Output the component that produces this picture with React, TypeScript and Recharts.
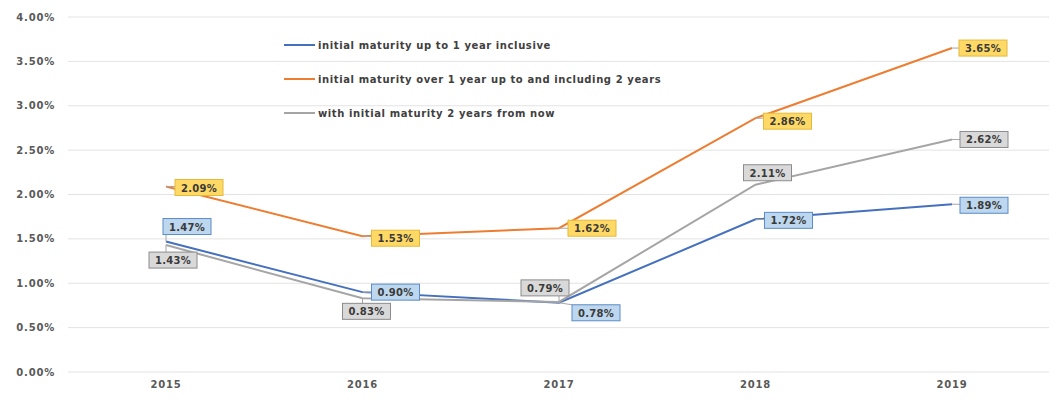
import { CartesianGrid, LabelList, Legend, Line, LineChart, XAxis, YAxis } from "recharts";

const YEARS = ["2015", "2016", "2017", "2018", "2019"];
const UP_TO_1Y = [1.47, 0.9, 0.78, 1.72, 1.89];
const OVER_1_TO_2Y = [2.09, 1.53, 1.62, 2.86, 3.65];
const OVER_2Y = [1.43, 0.83, 0.79, 2.11, 2.62];
const Y_TICKS = [0, 0.5, 1, 1.5, 2, 2.5, 3, 3.5, 4];

const FONT = "'DejaVu Sans', sans-serif";

type Serie = {
  key: string;
  name: string;
  color: string;
  labelFill: string;
  labelStroke: string;
  // desplazamiento de la etiqueta respecto al punto
  offsets: [number, number][];
};

const SERIES: Serie[] = [
  {
    key: "upTo1",
    name: "initial maturity up to 1 year inclusive",
    color: "#4470BE",
    labelFill: "#BDD7EE",
    labelStroke: "#5B8BC9",
    offsets: [[21, -15], [33, 0], [37, 10], [33, 1], [32, 1]],
  },
  {
    key: "over1to2",
    name: "initial maturity over 1 year up to and including 2 years",
    color: "#ED7D31",
    labelFill: "#FFD966",
    labelStroke: "#E5B93A",
    offsets: [[33, 1], [33, 2], [33, 0], [32, 3], [31, 0]],
  },
  {
    key: "over2",
    name: "with initial maturity 2 years from now",
    color: "#A5A5A5",
    labelFill: "#D9D9D9",
    labelStroke: "#8C8C8C",
    offsets: [[7, 15], [4, 13], [-14, -14], [12, -12], [32, 0]],
  },
];

const datos = YEARS.map((year, i) => ({
  year,
  upTo1: UP_TO_1Y[i],
  over1to2: OVER_1_TO_2Y[i],
  over2: OVER_2Y[i],
}));

function makeLabel(s: Serie) {
  return (props: any) => {
    const { x, y, value, index } = props;
    const [dx, dy] = s.offsets[index] ?? [0, -14];
    const w = 48;
    const h = 16;
    const cx = x + dx;
    const cy = y + dy;
    const left = cx - w / 2;
    const top = cy - h / 2;
    const px = Math.min(Math.max(x, left), left + w);
    const py = Math.min(Math.max(y, top), top + h);
    const leader = Math.hypot(px - x, py - y) > 4;
    return (
      <g>
        {leader && <line x1={x} y1={y} x2={px} y2={py} stroke="#A6A6A6" strokeWidth={1} />}
        <rect x={left} y={top} width={w} height={h} fill={s.labelFill} stroke={s.labelStroke} strokeWidth={1} />
        <text
          x={cx}
          y={cy + 0.5}
          textAnchor="middle"
          dominantBaseline="central"
          fontSize={10}
          fontWeight="bold"
          fontFamily={FONT}
          fill="#3A3A3A"
          letterSpacing={0.3}
        >
          {Number(value).toFixed(2)}%
        </text>
      </g>
    );
  };
}

function Leyenda() {
  return (
    <div style={{ fontFamily: FONT }}>
      {SERIES.map((s) => (
        <div key={s.key} style={{ display: "flex", alignItems: "center", height: 34 }}>
          <span style={{ width: 31, height: 2, backgroundColor: s.color, marginRight: 3 }} />
          <span
            style={{
              fontSize: 10,
              fontWeight: "bold",
              color: "#404040",
              whiteSpace: "nowrap",
              letterSpacing: 0.6,
            }}
          >
            {s.name}
          </span>
        </div>
      ))}
    </div>
  );
}

export default function App() {
  const tick = { fontSize: 10, fontWeight: "bold", fill: "#595959", fontFamily: FONT, letterSpacing: 0.8 };
  return (
    <div style={{ position: "relative", width: 1057, height: 418, margin: -8, background: "#fff" }}>
      <div style={{ position: "absolute", left: 6, top: 0, bottom: 0, borderLeft: "1px solid #D9D9D9" }} />
      <LineChart width={1057} height={418} data={datos} margin={{ top: 17, right: 7, bottom: 0, left: 0 }}>
        <CartesianGrid vertical={false} stroke="#E3E3E3" />
        <XAxis
          dataKey="year"
          height={46}
          axisLine={false}
          tickLine={false}
          tickSize={0}
          tickMargin={9}
          padding={{ left: 98, right: 98 }}
          tick={tick}
        />
        <YAxis
          width={68}
          domain={[0, 4]}
          ticks={Y_TICKS}
          axisLine={false}
          tickLine={false}
          tickSize={0}
          tickMargin={13}
          tickFormatter={(v: number) => `${v.toFixed(2)}%`}
          tick={tick}
        />
        <Legend
          layout="vertical"
          align="center"
          verticalAlign="middle"
          content={<Leyenda />}
          wrapperStyle={{ left: 284, top: 28, width: "auto" }}
        />
        {SERIES.map((s) => (
          <Line
            key={s.key}
            dataKey={s.key}
            name={s.name}
            stroke={s.color}
            strokeWidth={2}
            dot={false}
            activeDot={false}
            isAnimationActive={false}
          />
        ))}
        {SERIES.map((s) => (
          <Line
            key={`${s.key}-etiquetas`}
            dataKey={s.key}
            stroke="none"
            dot={false}
            activeDot={false}
            legendType="none"
            isAnimationActive={false}
          >
            <LabelList dataKey={s.key} content={makeLabel(s)} />
          </Line>
        ))}
      </LineChart>
    </div>
  );
}
